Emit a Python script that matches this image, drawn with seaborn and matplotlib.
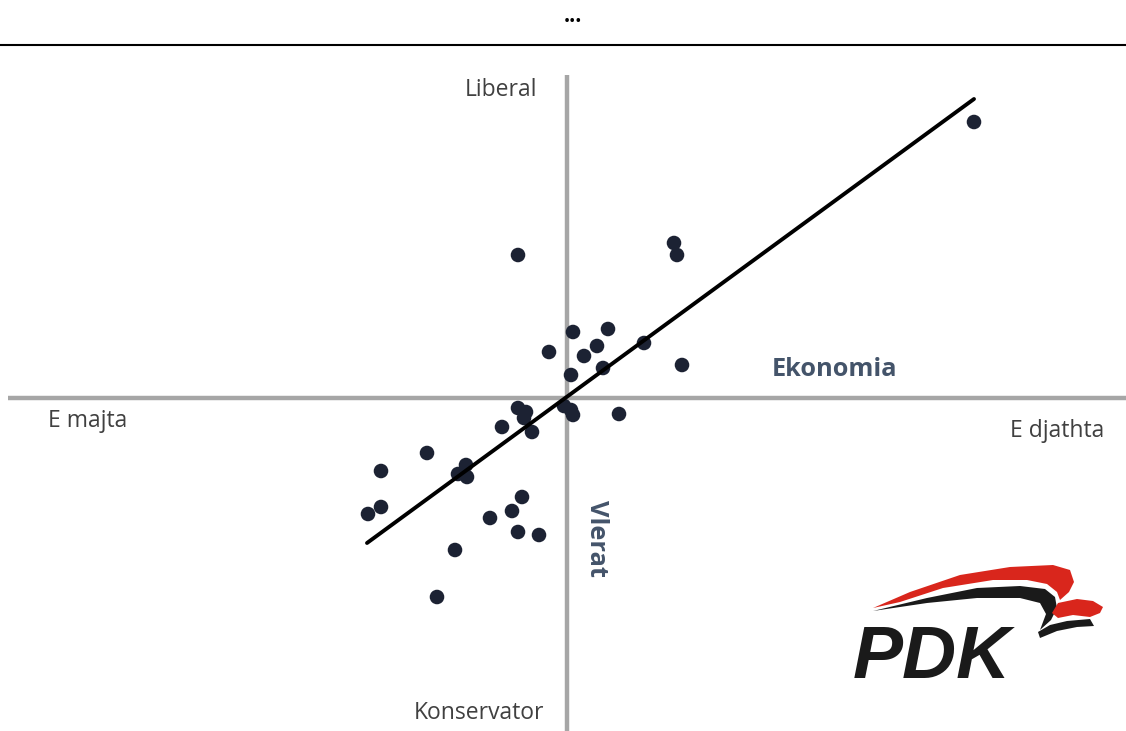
import matplotlib
matplotlib.use("Agg")
import matplotlib.pyplot as plt
from matplotlib.patches import Polygon
from matplotlib.lines import Line2D
import numpy as np
import pandas as pd
import seaborn as sns

# economy (x) vs values (y) positions
econ = [-0.49, 1.07, 1.10, 0.06, 0.41, -0.18, 0.30, 0.17, 0.77, 0.36, 0.04, 1.15,
        -0.49, -0.41, -0.43, -0.03, 0.06, 0.04, 0.52, -0.65, -0.35, -1.40, -1.86,
        -1.01, -1.09, -1.00, -0.45, -1.86, -1.99, -0.55, -0.77, -0.49, -0.28,
        -1.12, -1.30, 4.07]
values = [1.43, 1.55, 1.43, 0.66, 0.69, 0.46, 0.52, 0.42, 0.55, 0.30, 0.23, 0.33,
          -0.10, -0.14, -0.20, -0.08, -0.17, -0.12, -0.16, -0.29, -0.34, -0.55, -0.73,
          -0.67, -0.76, -0.79, -0.99, -1.09, -1.16, -1.13, -1.20, -1.34, -1.37,
          -1.52, -1.99, 2.76]

trend_x = [-2.00, 4.07]
trend_y = [-1.45, 2.99]

df = pd.DataFrame({"econ": econ, "values": values})

sns.set_theme(style="white")
plt.rcParams["font.family"] = ["Open Sans", "DejaVu Sans"]

W, H = 1126, 731
fig = plt.figure(figsize=(W / 100, H / 100), dpi=100)
ax = fig.add_axes([0, 0, 1, 685 / H])
ax.set_xlim(-5.67, 5.59)
ax.set_ylim(-3.33, 3.52)
ax.axis("off")

grey = "#a6a6a6"
ax.plot([-5.59, 5.59], [0, 0], color=grey, lw=3.2, zorder=1, solid_capstyle="butt")
ax.plot([0, 0], [-3.33, 3.23], color=grey, lw=3.2, zorder=1, solid_capstyle="butt")

sns.scatterplot(data=df, x="econ", y="values", ax=ax, s=110, color="#1c2233",
                edgecolor="none", zorder=3, legend=False)
ax.plot(trend_x, trend_y, color="black", lw=2.8, zorder=4)

txt = "#404040"
ax.text(-0.66, 3.08, "Liberal", ha="center", va="center", fontsize=16.5, color=txt)
ax.text(-0.88, -3.15, "Konservator", ha="center", va="center", fontsize=16.5, color=txt)
ax.text(-4.79, -0.23, "E majta", ha="center", va="center", fontsize=16.5, color=txt)
ax.text(4.90, -0.33, "E djathta", ha="center", va="center", fontsize=16.5, color=txt)
ax.text(2.68, 0.29, "Ekonomia", ha="center", va="center", fontsize=18.3,
        fontweight="bold", color="#44546a")
ax.text(0.29, -1.40, "Vlerat", ha="center", va="center", fontsize=18.3,
        fontweight="bold", color="#44546a", rotation=-90)

# header
fig.text(0.509, 1 - 22 / H, "...", ha="center", va="baseline", fontsize=15,
         fontweight="bold", color="black")
fig.add_artist(Line2D([0, 1], [1 - 45 / H] * 2, color="black", lw=1.5))


# PDK logo
def px(pts):
    return [(x / W, 1 - y / H) for x, y in pts]


red_swoosh = [(873, 608), (910, 592), (960, 575), (1010, 567), (1053, 565),
              (1070, 570), (1074, 582), (1069, 592), (1060, 600),
              (1057, 592), (1047, 584), (1027, 580), (993, 580), (943, 588),
              (900, 602)]
black_swoosh = [(873, 611), (927, 598), (977, 588), (1020, 586), (1045, 589),
                (1055, 597), (1057, 608), (1051, 620), (1040, 630),
                (1046, 614), (1040, 603), (1020, 598), (977, 598), (927, 603)]
red_flag = [(1058, 603), (1077, 599), (1093, 601), (1103, 607), (1100, 613),
            (1090, 617), (1073, 615), (1058, 618), (1052, 613)]
black_flag = [(1038, 632), (1050, 625), (1067, 621), (1090, 619), (1094, 626),
              (1077, 627), (1057, 631), (1040, 638)]
for pts, col in [(red_swoosh, "#d9261c"), (black_swoosh, "#1a1a1a"),
                 (red_flag, "#d9261c"), (black_flag, "#1a1a1a")]:
    fig.add_artist(Polygon(px(pts), closed=True, transform=fig.transFigure,
                           facecolor=col, edgecolor="none"))

fig.text(853 / W, 1 - 678 / H, "PDK", ha="left", va="baseline", fontsize=54,
         fontweight="bold", fontstyle="italic", family="Liberation Sans",
         color="#1a1a1a")

fig.savefig("out.png", dpi=100, facecolor="white")
